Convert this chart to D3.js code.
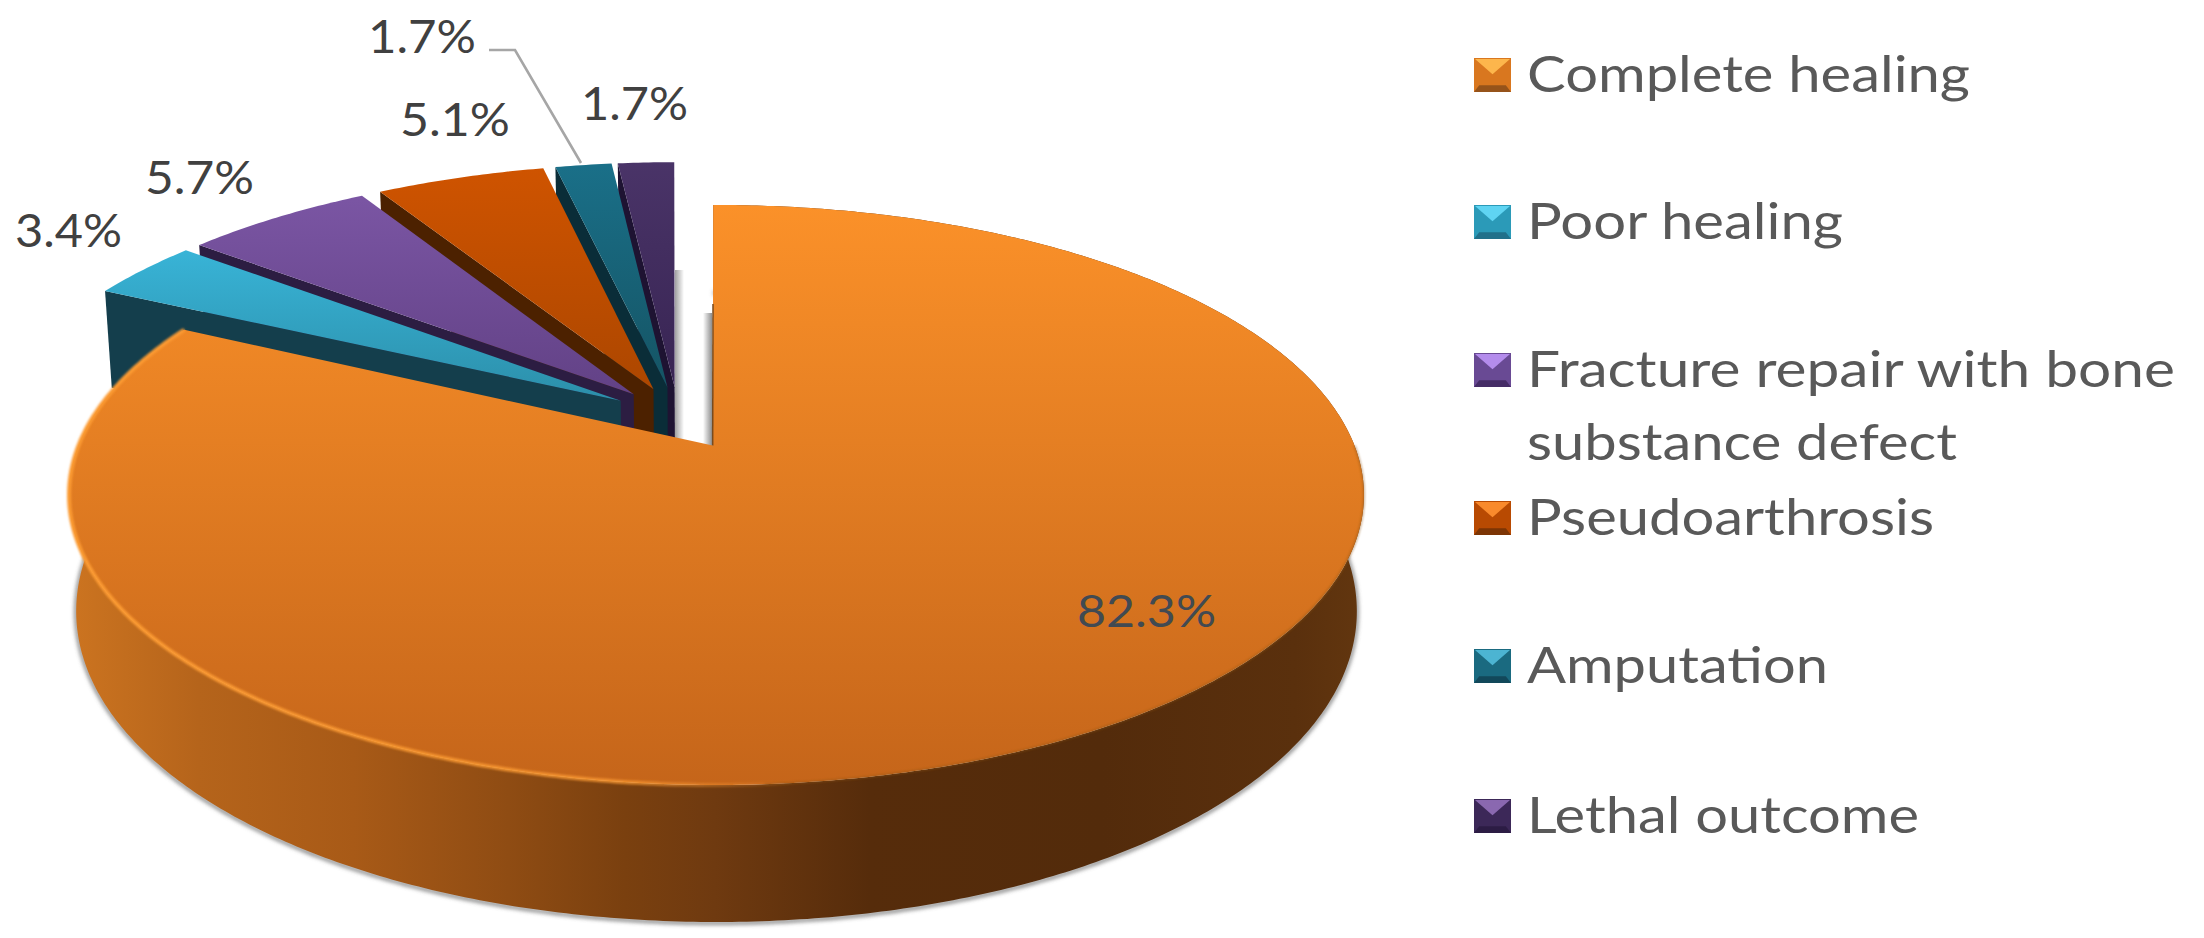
<!DOCTYPE html>
<html><head><meta charset="utf-8">
<script src="https://cdn.jsdelivr.net/npm/d3@7/dist/d3.min.js"></script>
<style>html,body{margin:0;padding:0;background:#fff;overflow:hidden}svg{display:block}text{font-family:Lato,"Open Sans",sans-serif}</style>
</head><body><svg id="c" width="2204" height="938"></svg>
<script>
// ---- data
const categories = ["Complete healing","Poor healing","Fracture repair with bone substance defect","Pseudoarthrosis","Amputation","Lethal outcome"];
const values = [82.3,3.4,5.7,5.1,1.7,1.7];
const valueLabels = ["82.3%","3.4%","5.7%","5.1%","1.7%","1.7%"];
// ---- colours
const topLight = ["#fb9129","#38b3d6","#7f59a9","#d05400","#1a7089","#4a3468"];
const topDark  = ["#c5651a","#2a8aa4","#5f3f82","#a84500","#14505f","#352250"];
const faceCol  = ["#6f3a10","#143e4c","#2c1d42","#4c2100","#0a2d38","#1e1332"];
const legLight = ["#fdb64c","#5fd4f2","#b48cec","#f98a2c","#4cb4d2","#8a68b0"];
const legMain  = ["#d9771f","#2b9ab8","#694a94","#b84a02","#1a6a80","#3c2858"];
const legDark  = ["#96531a","#21708a","#452c66","#7c3505","#12485a","#2c1c44"];
// ---- layout
const labelPos = [[1077,627,139],[15,247,107],[145,194,109],[400,136,110],[368,53,108],[581,120,107]];
const legendRows = [[58,[["Complete healing",92,443]]],[205,[["Poor healing",239,316]]],
 [353,[["Fracture repair with bone",387,648],["substance defect",460,430]]],
 [501,[["Pseudoarthrosis",535,407]]],[649,[["Amputation",683,301]]],[799,[["Lethal outcome",833,392]]]];
const legendX=1474, legendW=37, legendH=34, legendTextX=1527;

const svg=d3.select("#c"), defs=svg.append("defs");
const CX=716.5, RX=638, B=445.6, A=205.7, C=-0.1703, EXPLODE=0.11, ROT=-0.006, APEX_DU=-0.006;
const SHIFT_U=-0.009, SHIFT_V=-0.012;
const depth=d3.scaleLinear().domain([-1,1]).range([87,137]);

function project(u,v,z){ // z=0 top surface, z=1 lower surface
  const w=1+C*v;
  const k=z?0.989:1;
  return [CX+k*RX*u/w,(A*v+B)/w+(z?depth(v):0)];
}
const dir=a=>[Math.sin(a),-Math.cos(a)];
const line=d3.line();
const arcs=d3.pie().sort(null).value(d=>d).startAngle(ROT).endAngle(ROT+2*Math.PI)(values);
const mainMid=(arcs[0].startAngle+arcs[0].endAngle)/2, md=dir(mainMid);
const rimPts=(s,e,du,dv,z)=>{
  const n=Math.max(4,Math.ceil((e-s)/0.01)),p=[];
  for(let i=0;i<=n;i++){const t=s+(e-s)*i/n,q=dir(t);p.push(project(q[0]+du,q[1]+dv,z));}
  return p;
};

// gradients
arcs.forEach((a,i)=>{
  const g=defs.append("linearGradient").attr("id","top"+i).attr("gradientUnits","userSpaceOnUse")
   .attr("x1",0).attr("x2",0).attr("y1",i==0?205:(i==1?253:160)).attr("y2",i==0?785:420);
  g.append("stop").attr("offset",0).attr("stop-color",topLight[i]);
  g.append("stop").attr("offset",1).attr("stop-color",topDark[i]);
});
const sg=defs.append("linearGradient").attr("id","side").attr("gradientUnits","userSpaceOnUse").attr("x1",70).attr("x2",1360).attr("y1",0).attr("y2",0);
[[0,"#cc7420"],[.1,"#b5641b"],[.22,"#a85a17"],[.34,"#8f4c13"],[.43,"#7a400f"],[.5,"#6f3a10"],[.62,"#562c0b"],[.8,"#532b0b"],[.95,"#5a300d"],[1,"#62360f"]]
 .forEach(s=>sg.append("stop").attr("offset",s[0]).attr("stop-color",s[1]));
const hl=defs.append("linearGradient").attr("id","hl").attr("gradientUnits","userSpaceOnUse").attr("x1",70).attr("x2",800).attr("y1",0).attr("y2",0);
[[0,"#fb9a33",1],[.75,"#fb9a33",.8],[1,"#fb9a33",0]].forEach(s=>hl.append("stop").attr("offset",s[0]).attr("stop-color",s[1]).attr("stop-opacity",s[2]));
const f=defs.append("filter").attr("id","blur").attr("x","-5%").attr("y","-5%").attr("width","110%").attr("height","110%");
f.append("feGaussianBlur").attr("stdDeviation",2.2);
const f2=defs.append("filter").attr("id","blur1").attr("x","-5%").attr("y","-5%").attr("width","110%").attr("height","110%");
f2.append("feGaussianBlur").attr("stdDeviation",1.3);
const sl=defs.append("linearGradient").attr("id","shL");
sl.append("stop").attr("offset",0).attr("stop-color","#a0a0a0");sl.append("stop").attr("offset",1).attr("stop-color","#fff");
const sr=defs.append("linearGradient").attr("id","shR");
sr.append("stop").attr("offset",0).attr("stop-color","#fff");sr.append("stop").attr("offset",1).attr("stop-color","#8e8e8e");

function slice(i){
  const a=arcs[i], mid=(a.startAngle+a.endAngle)/2, d=dir(mid);
  const du=i==0?0:EXPLODE*(d[0]-md[0])+SHIFT_U, dv=i==0?0:EXPLODE*(d[1]-md[1])+SHIFT_V;
  const au=du+(i==0?APEX_DU:0.006);
  const g=svg.append("g").attr("class","slice");
  const topR=rimPts(a.startAngle,a.endAngle,du,dv,0);
  if(i==0){
    const botR=rimPts(a.startAngle,a.endAngle,du,dv,1);
    g.append("path").attr("d",line(botR)).attr("fill","none").attr("stroke","#666").attr("stroke-width",3).attr("filter","url(#blur)").attr("transform","translate(0,1)");
    g.append("path").attr("d",line(topR.concat(botR.slice().reverse()))+"Z").attr("fill","url(#side)");
  }
  const s=dir(a.startAngle);
  g.append("path").attr("d",line([project(au,dv,0),project(s[0]+du,s[1]+dv,0),project(s[0]+du,s[1]+dv,1),project(au,dv,1)])+"Z").attr("fill",faceCol[i]);
  g.append("path").attr("d",line([project(au,dv,0)].concat(topR))+"Z").attr("fill",`url(#top${i})`);
  return {g,du,dv,au};
}
[5,4,3,2,1].forEach(slice);

// soft shadows in the gap between the exploded slices and the large slice
svg.append("rect").attr("x",675).attr("y",270).attr("width",9).attr("height",170).attr("fill","url(#shL)");
svg.append("rect").attr("x",703).attr("y",313).attr("width",9).attr("height",133).attr("fill","url(#shR)");

const m=slice(0);
// rim highlight + soft rim on the large slice
const a0=arcs[0];
m.g.append("path").attr("d",line(rimPts(Math.PI*0.95,a0.endAngle,0,0,0))).attr("fill","none").attr("stroke","url(#hl)").attr("stroke-width",4).attr("filter","url(#blur1)");
m.g.append("path").attr("d",line(rimPts(Math.PI*0.5,Math.PI*0.98,0,0,0))).attr("fill","none").attr("stroke","#8f5416").attr("stroke-width",2).attr("filter","url(#blur1)").attr("opacity",.5);
m.g.append("path").attr("d",line([project(m.au,0,0),project(dir(a0.startAngle)[0]*.5+m.au/2,dir(a0.startAngle)[1]*.55,0)])).attr("fill","none").attr("stroke","#7a4a1c").attr("stroke-width",1.5);

// leader line
svg.append("path").attr("d",line([[489,50],[515,50],[581,163]])).attr("fill","none").attr("stroke","#a6a6a6").attr("stroke-width",2.6);

// value labels
svg.selectAll("text.val").data(valueLabels).join("text").attr("class","val")
 .attr("x",(d,i)=>labelPos[i][0]).attr("y",(d,i)=>labelPos[i][1])
 .attr("textLength",(d,i)=>labelPos[i][2]).attr("lengthAdjust","spacingAndGlyphs")
 .attr("font-size",(d,i)=>i==0?44:46).attr("fill",(d,i)=>i==0?"#414a52":"#404040").text(d=>d);

// legend
legendRows.forEach((r,i)=>{
  const x=legendX,y=r[0],w=legendW,h=legendH,g=svg.append("g");
  g.append("rect").attr("x",x).attr("y",y).attr("width",w).attr("height",h).attr("fill",legMain[i]);
  g.append("path").attr("d",line([[x+1,y+1],[x+w-1,y+1],[x+w/2,y+h*.48]])+"Z").attr("fill",legLight[i]);
  g.append("path").attr("d",line([[x,y+h],[x+w,y+h],[x+w*.86,y+h*.8],[x+w*.14,y+h*.8]])+"Z").attr("fill",legDark[i]);
  r[1].forEach(t=>{
    g.append("text").attr("x",legendTextX).attr("y",t[1]).attr("font-size",50).attr("fill","#595959")
     .attr("textLength",t[2]).attr("lengthAdjust","spacingAndGlyphs").text(t[0]);
  });
});
</script></body></html>
